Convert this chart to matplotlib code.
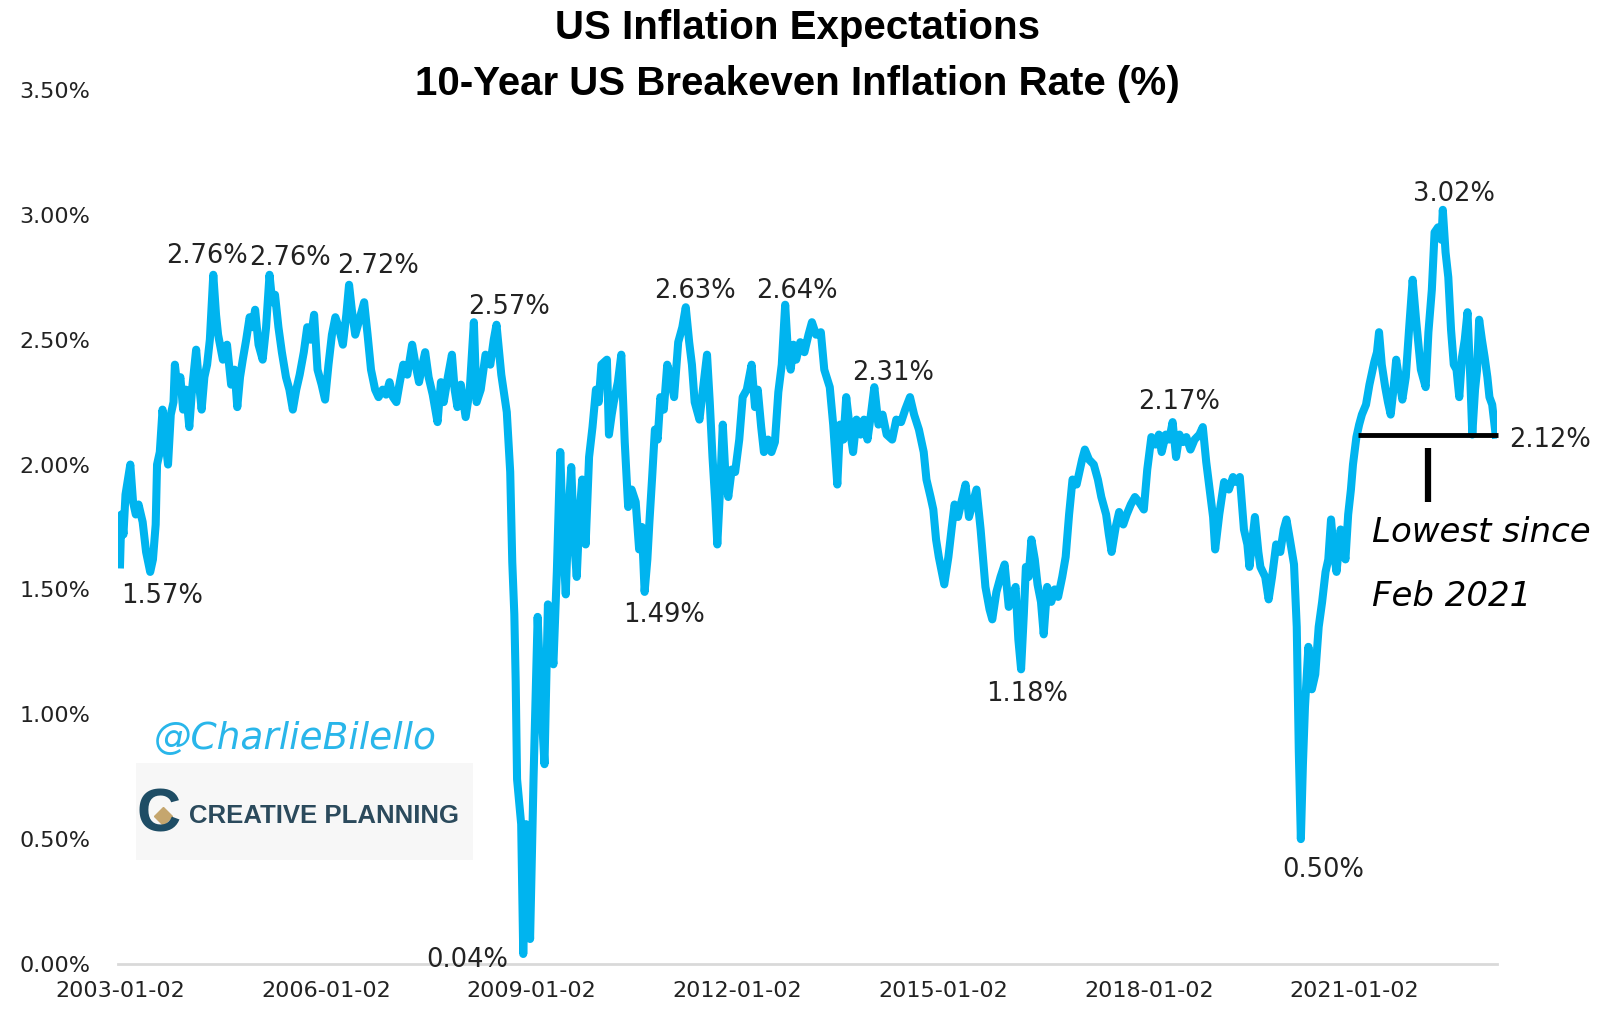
import matplotlib.pyplot as plt
from matplotlib.patches import Rectangle
from matplotlib.lines import Line2D

# 10-Year US breakeven inflation rate (%) (decimal year, value)
dates = [
    2003.00, 2003.02, 2003.05, 2003.08, 2003.12, 2003.15, 2003.19, 2003.23, 2003.27, 2003.33,
    2003.38, 2003.44, 2003.48, 2003.52, 2003.54, 2003.58, 2003.62, 2003.66, 2003.70, 2003.74,
    2003.78, 2003.80, 2003.84, 2003.88, 2003.92, 2003.96, 2004.01, 2004.05, 2004.11, 2004.15,
    2004.19, 2004.23, 2004.27, 2004.31, 2004.36, 2004.40, 2004.43, 2004.50, 2004.56, 2004.62,
    2004.67, 2004.71, 2004.75, 2004.79, 2004.84, 2004.89, 2004.93, 2004.97, 2005.02, 2005.08,
    2005.13, 2005.18, 2005.22, 2005.26, 2005.31, 2005.36, 2005.42, 2005.47, 2005.52, 2005.57,
    2005.62, 2005.68, 2005.73, 2005.78, 2005.83, 2005.88, 2005.94, 2005.99, 2006.04, 2006.09,
    2006.14, 2006.19, 2006.25, 2006.30, 2006.34, 2006.38, 2006.43, 2006.49, 2006.56, 2006.61,
    2006.66, 2006.72, 2006.77, 2006.83, 2006.88, 2006.93, 2006.98, 2007.03, 2007.08, 2007.13,
    2007.19, 2007.26, 2007.31, 2007.36, 2007.41, 2007.45, 2007.50, 2007.56, 2007.63, 2007.68,
    2007.72, 2007.78, 2007.84, 2007.88, 2007.92, 2007.97, 2008.04, 2008.10, 2008.16, 2008.20,
    2008.26, 2008.33, 2008.40, 2008.45, 2008.49, 2008.56, 2008.64, 2008.69, 2008.72, 2008.75,
    2008.77, 2008.79, 2008.85, 2008.88, 2008.92, 2008.98, 2009.03, 2009.09, 2009.14, 2009.19,
    2009.24, 2009.28, 2009.32, 2009.37, 2009.42, 2009.46, 2009.50, 2009.54, 2009.58, 2009.62,
    2009.66, 2009.70, 2009.74, 2009.79, 2009.84, 2009.89, 2009.94, 2009.98, 2010.02, 2010.10,
    2010.13, 2010.17, 2010.20, 2010.26, 2010.31, 2010.36, 2010.41, 2010.46, 2010.52, 2010.57,
    2010.61, 2010.65, 2010.69, 2010.72, 2010.76, 2010.80, 2010.84, 2010.88, 2010.93, 2010.98,
    2011.03, 2011.08, 2011.14, 2011.20, 2011.25, 2011.30, 2011.34, 2011.38, 2011.45, 2011.50,
    2011.56, 2011.60, 2011.64, 2011.68, 2011.71, 2011.75, 2011.79, 2011.83, 2011.87, 2011.92,
    2011.97, 2012.03, 2012.08, 2012.14, 2012.21, 2012.26, 2012.30, 2012.35, 2012.39, 2012.45,
    2012.50, 2012.55, 2012.60, 2012.65, 2012.70, 2012.74, 2012.78, 2012.82, 2012.86, 2012.92,
    2012.98, 2013.04, 2013.09, 2013.15, 2013.22, 2013.27, 2013.35, 2013.40, 2013.46, 2013.50,
    2013.55, 2013.59, 2013.64, 2013.69, 2013.74, 2013.80, 2013.85, 2013.90, 2013.95, 2014.00,
    2014.06, 2014.12, 2014.18, 2014.26, 2014.32, 2014.39, 2014.45, 2014.52, 2014.58, 2014.65,
    2014.72, 2014.76, 2014.82, 2014.86, 2014.90, 2014.94, 2015.02, 2015.08, 2015.13, 2015.17,
    2015.22, 2015.27, 2015.33, 2015.38, 2015.44, 2015.49, 2015.55, 2015.62, 2015.68, 2015.72,
    2015.78, 2015.84, 2015.90, 2015.96, 2016.02, 2016.06, 2016.10, 2016.14, 2016.18, 2016.21,
    2016.25, 2016.29, 2016.34, 2016.38, 2016.43, 2016.47, 2016.52, 2016.58, 2016.63, 2016.68,
    2016.74, 2016.79, 2016.84, 2016.89, 2016.95, 2016.99, 2017.03, 2017.07, 2017.13, 2017.20,
    2017.26, 2017.31, 2017.38, 2017.42, 2017.46, 2017.52, 2017.57, 2017.63, 2017.68, 2017.74,
    2017.80, 2017.86, 2017.93, 2017.98, 2018.04, 2018.10, 2018.15, 2018.19, 2018.25, 2018.30,
    2018.35, 2018.40, 2018.45, 2018.50, 2018.55, 2018.61, 2018.67, 2018.74, 2018.79, 2018.84,
    2018.90, 2018.94, 2018.97, 2019.03, 2019.10, 2019.17, 2019.23, 2019.28, 2019.33, 2019.39,
    2019.44, 2019.47, 2019.55, 2019.60, 2019.63, 2019.70, 2019.75, 2019.80, 2019.86, 2019.92,
    2019.97, 2020.01, 2020.06, 2020.12, 2020.16, 2020.19, 2020.22, 2020.25, 2020.28, 2020.33,
    2020.38, 2020.43, 2020.48, 2020.53, 2020.58, 2020.62, 2020.66, 2020.70, 2020.74, 2020.80,
    2020.87, 2020.91, 2020.95, 2020.98, 2021.03, 2021.07, 2021.11, 2021.17, 2021.22, 2021.29,
    2021.33, 2021.36, 2021.40, 2021.45, 2021.49, 2021.53, 2021.57, 2021.61, 2021.66, 2021.70,
    2021.75, 2021.80, 2021.85, 2021.90, 2021.97, 2022.04, 2022.08, 2022.13, 2022.17, 2022.22,
    2022.27, 2022.29, 2022.33, 2022.37, 2022.41, 2022.45, 2022.49, 2022.53, 2022.57, 2022.61,
    2022.65, 2022.69, 2022.72, 2022.76, 2022.79, 2022.82, 2022.86, 2022.90, 2022.94, 2022.97,
    2023.01, 2023.06,
]
rates = [
    1.60, 1.80, 1.72, 1.88, 1.95, 2.00, 1.85, 1.80, 1.84, 1.77,
    1.65, 1.57, 1.62, 1.76, 2.00, 2.05, 2.22, 2.10, 2.00, 2.20,
    2.25, 2.40, 2.30, 2.35, 2.22, 2.30, 2.15, 2.30, 2.46, 2.33,
    2.22, 2.35, 2.40, 2.50, 2.76, 2.60, 2.52, 2.42, 2.48, 2.32,
    2.38, 2.23, 2.35, 2.42, 2.50, 2.59, 2.55, 2.62, 2.48, 2.42,
    2.55, 2.76, 2.65, 2.68, 2.55, 2.45, 2.35, 2.30, 2.22, 2.30,
    2.36, 2.45, 2.55, 2.50, 2.60, 2.38, 2.32, 2.26, 2.40, 2.52,
    2.59, 2.55, 2.48, 2.60, 2.72, 2.62, 2.52, 2.58, 2.65, 2.52,
    2.38, 2.30, 2.27, 2.30, 2.28, 2.33, 2.27, 2.25, 2.33, 2.40,
    2.36, 2.48, 2.40, 2.33, 2.40, 2.45, 2.35, 2.28, 2.17, 2.33,
    2.25, 2.35, 2.44, 2.30, 2.23, 2.32, 2.19, 2.30, 2.57, 2.25,
    2.30, 2.44, 2.40, 2.50, 2.56, 2.36, 2.21, 1.97, 1.61, 1.40,
    1.13, 0.74, 0.56, 0.04, 0.56, 0.10, 0.74, 1.39, 1.05, 0.80,
    1.44, 1.30, 1.20, 1.57, 2.05, 1.70, 1.48, 1.80, 1.99, 1.70,
    1.55, 1.80, 1.94, 1.68, 2.03, 2.15, 2.30, 2.25, 2.40, 2.42,
    2.12, 2.20, 2.25, 2.33, 2.44, 2.09, 1.83, 1.90, 1.85, 1.66,
    1.75, 1.49, 1.62, 1.77, 1.95, 2.14, 2.10, 2.27, 2.22, 2.40,
    2.35, 2.27, 2.49, 2.55, 2.63, 2.49, 2.40, 2.25, 2.18, 2.30,
    2.44, 2.25, 2.03, 1.85, 1.68, 1.90, 2.16, 1.95, 1.87, 1.98,
    1.97, 2.10, 2.27, 2.30, 2.40, 2.23, 2.30, 2.15, 2.05, 2.10,
    2.05, 2.09, 2.29, 2.40, 2.64, 2.45, 2.38, 2.48, 2.42, 2.49,
    2.45, 2.52, 2.57, 2.52, 2.53, 2.38, 2.31, 2.16, 1.92, 2.16,
    2.10, 2.27, 2.15, 2.05, 2.18, 2.12, 2.18, 2.10, 2.20, 2.31,
    2.16, 2.20, 2.12, 2.10, 2.18, 2.17, 2.22, 2.27, 2.20, 2.14,
    2.05, 1.94, 1.87, 1.82, 1.70, 1.63, 1.52, 1.63, 1.75, 1.84,
    1.79, 1.85, 1.92, 1.79, 1.85, 1.90, 1.74, 1.51, 1.42, 1.38,
    1.49, 1.55, 1.60, 1.43, 1.48, 1.51, 1.30, 1.18, 1.40, 1.59,
    1.55, 1.70, 1.62, 1.52, 1.45, 1.32, 1.51, 1.45, 1.50, 1.47,
    1.55, 1.63, 1.80, 1.94, 1.92, 1.97, 2.02, 2.06, 2.02, 2.00,
    1.94, 1.87, 1.80, 1.72, 1.65, 1.75, 1.81, 1.76, 1.80, 1.84,
    1.87, 1.85, 1.82, 1.98, 2.11, 2.08, 2.12, 2.05, 2.12, 2.10,
    2.17, 2.03, 2.12, 2.09, 2.11, 2.06, 2.10, 2.12, 2.15, 2.01,
    1.88, 1.79, 1.66, 1.80, 1.93, 1.90, 1.95, 1.93, 1.95, 1.74,
    1.68, 1.59, 1.79, 1.65, 1.59, 1.55, 1.46, 1.55, 1.68, 1.65,
    1.74, 1.78, 1.70, 1.60, 1.35, 0.85, 0.50, 0.80, 1.03, 1.27,
    1.10, 1.16, 1.35, 1.45, 1.57, 1.62, 1.78, 1.65, 1.57, 1.74,
    1.62, 1.80, 1.90, 2.00, 2.11, 2.16, 2.20, 2.24, 2.32, 2.41,
    2.45, 2.53, 2.40, 2.31, 2.25, 2.20, 2.30, 2.42, 2.33, 2.26,
    2.35, 2.55, 2.74, 2.58, 2.38, 2.31, 2.53, 2.70, 2.93, 2.95,
    2.90, 3.02, 2.85, 2.75, 2.54, 2.40, 2.38, 2.27, 2.43, 2.50,
    2.61, 2.35, 2.12, 2.30, 2.38, 2.58, 2.50, 2.43, 2.35, 2.27,
    2.24, 2.12,
]

# labelled extremes: text and where the label sits (decimal year, %)
label_texts = ["1.57%", "2.76%", "2.76%", "2.72%", "2.57%", "0.04%", "2.63%", "2.64%",
               "1.49%", "2.31%", "1.18%", "2.17%", "0.50%", "3.02%", "2.12%"]
label_x = [2003.61, 2004.27, 2005.48, 2006.76, 2008.67, 2008.06, 2011.38, 2012.87,
           2010.94, 2014.28, 2016.22, 2018.45, 2020.55, 2022.45, 2023.86]
label_y = [1.475, 2.835, 2.827, 2.795, 2.630, 0.016, 2.694, 2.694,
           1.396, 2.366, 1.083, 2.249, 0.377, 3.084, 2.097]

year_ticks = [2003, 2006, 2009, 2012, 2015, 2018, 2021]
pct_ticks = [0, 0.5, 1.0, 1.5, 2.0, 2.5, 3.0, 3.5]
latest = 2.12

blue = '#00b4ef'

fig = plt.figure(figsize=(16.05, 10.19), dpi=100)
fig.patch.set_facecolor('white')
ax = fig.add_axes([0.0735, 0.054, 0.8592, 0.8577])

ax.plot(dates, rates, color=blue, lw=5.8, solid_joinstyle='round', zorder=3)

ax.set_xlim(2002.97, 2023.08)
ax.set_ylim(0, 3.5)
ax.set_xticks([y + 1 / 365 for y in year_ticks])
ax.set_xticklabels([f"{y}-01-02" for y in year_ticks])
ax.set_yticks(pct_ticks)
ax.set_yticklabels([f"{p:.2f}%" for p in pct_ticks])
ax.tick_params(length=0, labelsize=16, colors='#222222')
ax.tick_params(axis='y', pad=20)
ax.tick_params(axis='x', pad=12)
for s in ['top', 'right', 'left']:
    ax.spines[s].set_visible(False)
ax.spines['bottom'].set_color('#d9d9d9')
ax.spines['bottom'].set_linewidth(2)

for t, x, y in zip(label_texts, label_x, label_y):
    ax.text(x, y, t, ha='center', va='center', fontsize=18.5, color='#222222',
            clip_on=False, zorder=4)

# "lowest since" marker
ax.hlines(latest, 2021.05, 2023.09, color='black', lw=3.5, zorder=5, clip_on=False)
ax.vlines(2022.07, 1.85, 2.065, color='black', lw=4.5, zorder=5)
fig.text(0.855, 0.477, "Lowest since", fontsize=24.5, style='italic', color='black',
         ha='left', va='center')
fig.text(0.855, 0.415, "Feb 2021", fontsize=24.5, style='italic', color='black',
         ha='left', va='center')

# title
title_font = ['Liberation Sans Narrow', 'Liberation Sans']
fig.text(0.497, 0.973, "US Inflation Expectations", fontsize=29, weight='bold',
         ha='center', va='center', family=title_font)
fig.text(0.497, 0.9176, "10-Year US Breakeven Inflation Rate (%)", fontsize=29,
         weight='bold', ha='center', va='center', family=title_font)

# watermark / logo
fig.text(0.184, 0.275, "@CharlieBilello", fontsize=27, style='italic', color='#29b6ea',
         ha='center', va='center')
fig.patches.append(Rectangle((0.085, 0.156), 0.21, 0.095, transform=fig.transFigure,
                             facecolor='#f7f7f7', edgecolor='none', zorder=0))
fig.text(0.099, 0.199, "C", fontsize=44, weight='bold', color='#1e4d65',
         ha='center', va='center', family=title_font)
fig.add_artist(Line2D([0.1015], [0.199], transform=fig.transFigure, marker='D',
                      markersize=9, color='#c5a66e', linestyle='none'))
fig.text(0.118, 0.199, "CREATIVE PLANNING", fontsize=18.5, weight='bold', color='#2b4a5c',
         ha='left', va='center', family=title_font)

plt.savefig("out.png", dpi=100)
